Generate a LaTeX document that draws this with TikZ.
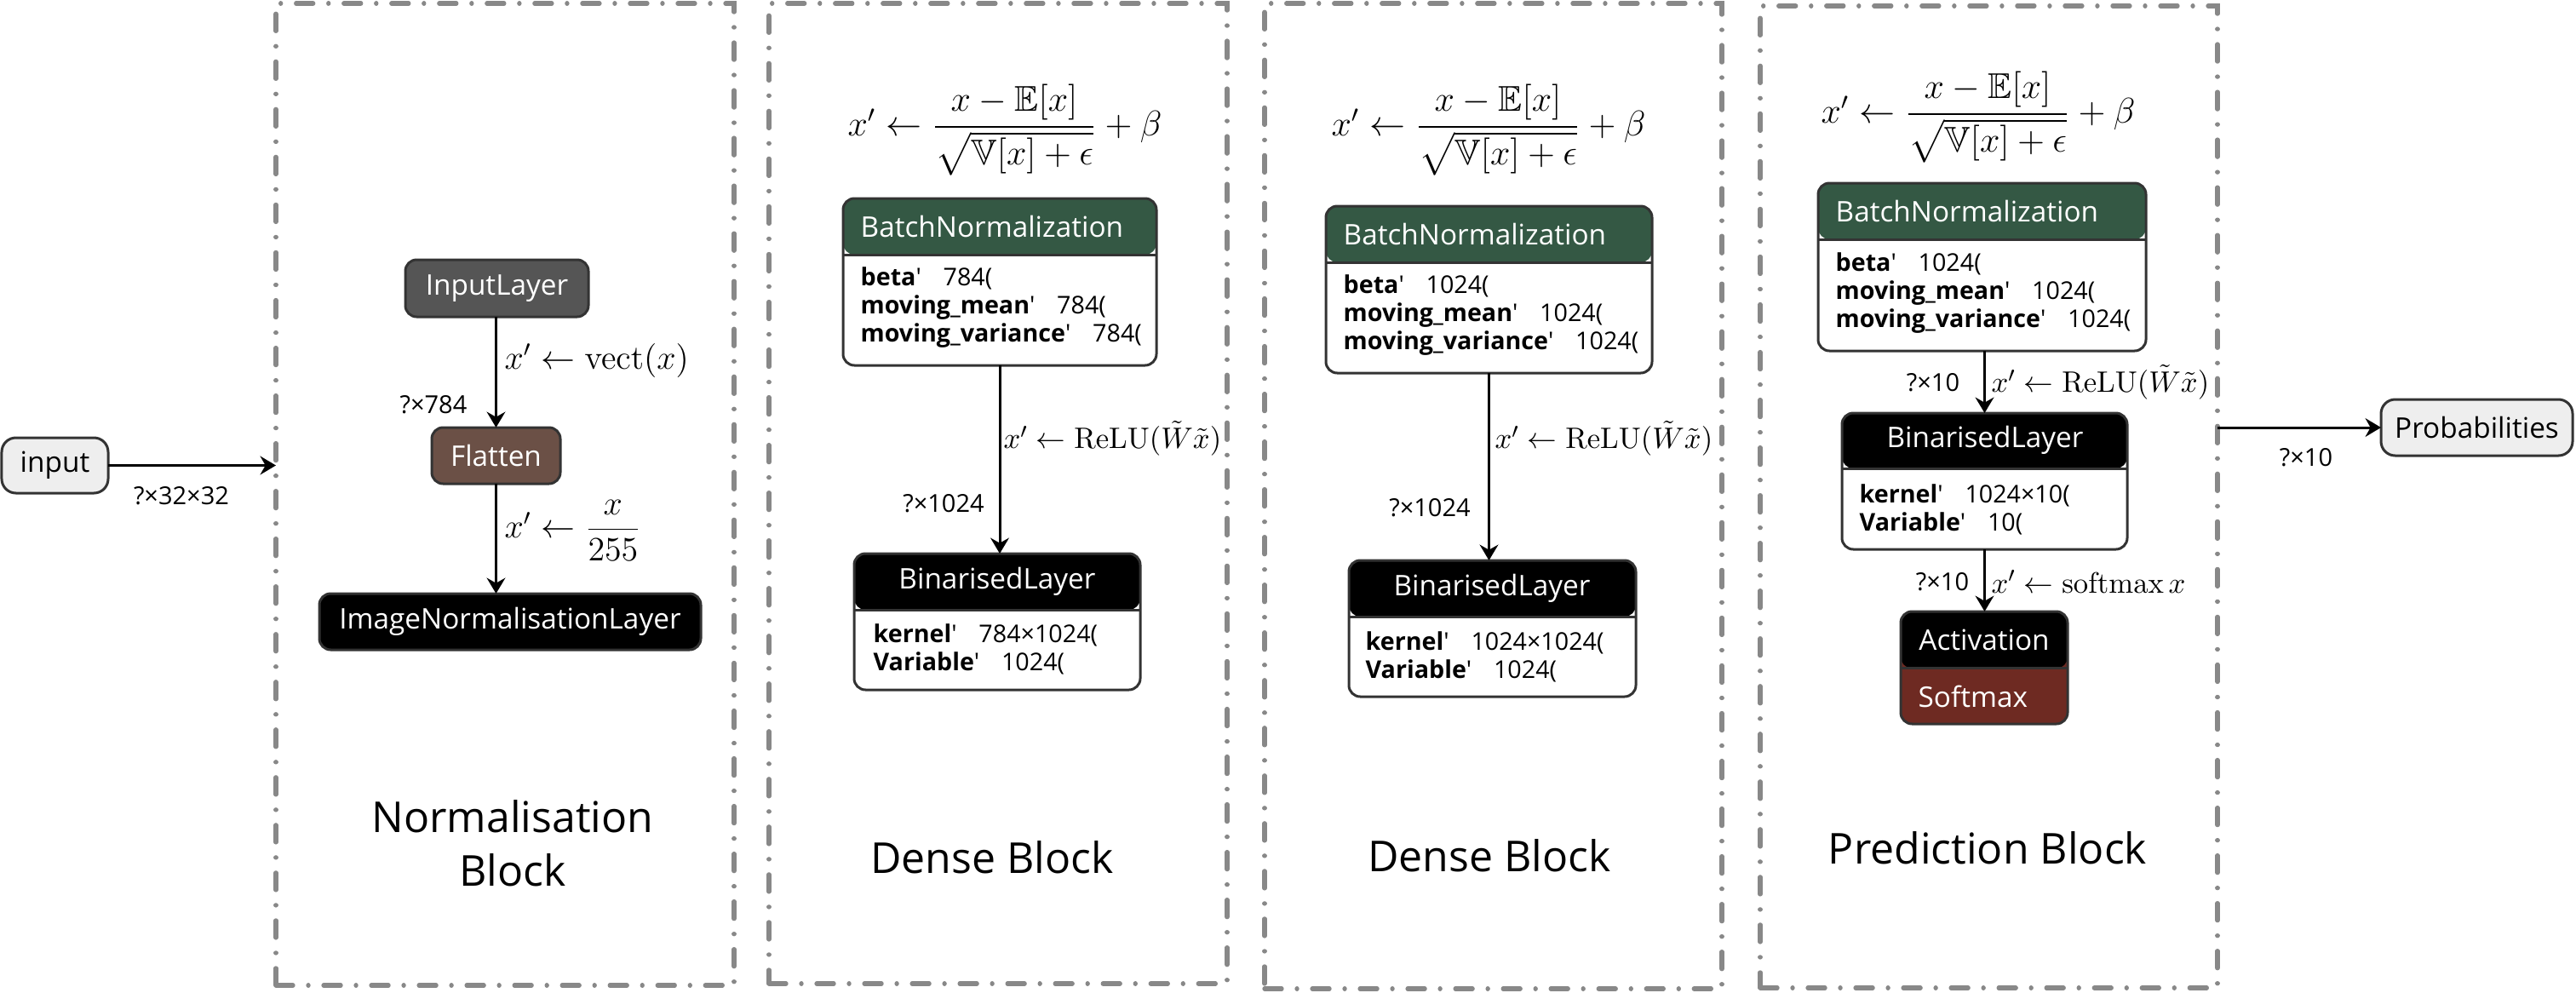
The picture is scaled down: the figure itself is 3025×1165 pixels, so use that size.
\documentclass[tikz,border=0pt]{standalone}
\usepackage{amsmath,amssymb}
\usepackage[no-math]{fontspec}
\setmainfont{Open Sans}
\usetikzlibrary{fit,arrows.meta}

\definecolor{edgegray}{RGB}{51,51,51}
\definecolor{blockgray}{RGB}{136,136,136}
\definecolor{inlgray}{RGB}{85,85,85}
\definecolor{flatbrown}{RGB}{107,80,70}
\definecolor{bngreen}{RGB}{52,88,68}
\definecolor{softred}{RGB}{110,42,34}
\definecolor{termfill}{RGB}{238,238,238}

\newcommand{\nodefont}{\fontsize{10}{12}\selectfont}
\newcommand{\parfont}{\fontsize{8.6}{9.9}\selectfont}
\newcommand{\lblfont}{\fontsize{8.7}{10}\selectfont}
\newcommand{\ttlfont}{\fontsize{15}{19}\selectfont}
\newcommand{\prm}[2]{\textbf{#1}\textquotesingle\hspace{0.9em}#2}
\newcommand{\bnformula}{$x'\leftarrow\dfrac{x-\mathbb{E}[x]}{\sqrt{\mathbb{V}[x]+\epsilon}}+\beta$}

\begin{document}
\begin{tikzpicture}[x=0.3pt,y=-0.3pt,
  sz/.style 2 args={minimum width={#1*0.3pt}, minimum height={#2*0.3pt}},
  blockbox/.style={draw=blockgray, line width=1.6pt, dash pattern=on 6pt off 5.4pt on 0.01pt off 5.4pt, line cap=round, inner sep=0pt, outer sep=0pt},
  layer/.style={draw=edgegray, line width=0.9pt, rounded corners=4pt, inner sep=0pt, outer sep=0pt, text=white, font=\nodefont},
  hdr/.style 2 args={path picture={
     \fill[#1] (path picture bounding box.north west) rectangle ([yshift=-#2]path picture bounding box.north east);
     \draw[edgegray, line width=0.9pt] ([yshift=-#2]path picture bounding box.north west) -- ([yshift=-#2]path picture bounding box.north east);}},
  term/.style={draw=edgegray, line width=0.9pt, rounded corners=5pt, fill=termfill, inner sep=0pt, outer sep=0pt, font=\nodefont},
  arr/.style={line width=0.9pt, -{Stealth[length=5.5pt,width=6.5pt,inset=1.8pt]}},
  lbl/.style={font=\lblfont, inner sep=0pt},
  mlbl/.style={font=\fontsize{12}{14}\selectfont, inner sep=0pt},
  slbl/.style={font=\fontsize{11}{13}\selectfont, inner sep=0pt, scale=0.95},
  mform/.style={font=\fontsize{12}{15}\selectfont, inner sep=0pt, scale=1.05},
  htext/.style={font=\nodefont, text=white, inner sep=0pt},
  ptext/.style={font=\parfont, align=left, inner sep=0pt, anchor=west},
  ttl/.style={font=\ttlfont, align=center, inner sep=0pt}]
\useasboundingbox (0,0) rectangle (3025,1165);

% ---------- input ----------
\node[term, sz={125}{65}] (input) at (64.5,546.5) {input};

% ---------- Block 1 ----------
\node[blockbox, fit={(324,4)(862,1157)}] (blk1) {};
\node[layer, fill=inlgray, sz={215}{67}] (inl) at (583.5,338.5) {InputLayer};
\node[layer, fill=flatbrown, sz={151}{66}] (flat) at (582.5,535) {Flatten};
\node[layer, fill=black, sz={448}{66}] (imgn) at (599,730) {ImageNormalisationLayer};
\draw[arr] (inl.south -| flat.north) -- (flat.north);
\draw[arr] (flat.south) -- (flat.south |- imgn.north);
\node[mlbl, anchor=west] (lv) at (592,423) {$x'\leftarrow\mathrm{vect}(x)$};
\node[lbl] (s784) at (509,475) {?×784};
\node[mlbl, anchor=west] (lf) at (592,623) {$x'\leftarrow\dfrac{x}{255}$};
\node[ttl] (t1) at (602,990) {Normalisation\\Block};

\draw[arr] (input.east) -- (input.east -| blk1.west);
\node[lbl] (s32) at (213,582) {?×32×32};

% ---------- Block 2 ----------
\node[blockbox, fit={(903,4)(1441,1155)}] (blk2) {};
\node[mform] (f2) at (1180,153) {\bnformula};
\node[layer, fill=white, hdr={bngreen}{19.8pt}, fit={(990,233)(1358,429)}] (bn2) {};
\node[htext, anchor=west] (bn2h) at (1010,266) {BatchNormalization};
\node[ptext] (bn2p) at (1010,361) {\prm{beta}{784(}\\\prm{moving\_mean}{784(}\\\prm{moving\_variance}{784(}};
\node[layer, fill=white, hdr={black}{19.8pt}, fit={(1003,650)(1339,810)}] (bin2) {};
\node[htext] (bin2h) at (1171,683) {BinarisedLayer};
\node[ptext] (bin2p) at (1025,762) {\prm{kernel}{784×1024(}\\\prm{Variable}{1024(}};
\draw[arr] (bn2.south) -- (bn2.south |- bin2.north);
\node[slbl, anchor=west] (lr2) at (1178,515) {$x'\leftarrow\mathrm{ReLU}(\tilde{W}\tilde{x})$};
\node[lbl] (s1024a) at (1108,591) {?×1024};
\node[ttl] (t2) at (1165,1007) {Dense Block};

% ---------- Block 3 ----------
\node[blockbox, fit={(1485,4)(2022,1161)}] (blk3) {};
\node[mform] (f3) at (1748,153) {\bnformula};
\node[layer, fill=white, hdr={bngreen}{19.8pt}, fit={(1557,242)(1940,438)}] (bn3) {};
\node[htext, anchor=west] (bn3h) at (1577,275) {BatchNormalization};
\node[ptext] (bn3p) at (1577,370) {\prm{beta}{1024(}\\\prm{moving\_mean}{1024(}\\\prm{moving\_variance}{1024(}};
\node[layer, fill=white, hdr={black}{19.8pt}, fit={(1584,658)(1921,818)}] (bin3) {};
\node[htext] (bin3h) at (1752,691) {BinarisedLayer};
\node[ptext] (bin3p) at (1603,771) {\prm{kernel}{1024×1024(}\\\prm{Variable}{1024(}};
\draw[arr] (bn3.south) -- (bn3.south |- bin3.north);
\node[slbl, anchor=west] (lr3) at (1755,515) {$x'\leftarrow\mathrm{ReLU}(\tilde{W}\tilde{x})$};
\node[lbl] (s1024b) at (1679,596) {?×1024};
\node[ttl] (t3) at (1749,1005) {Dense Block};

% ---------- Block 4 ----------
\node[blockbox, fit={(2067,7)(2604,1160)}] (blk4) {};
\node[mform] (f4) at (2323,138) {\bnformula};
\node[layer, fill=white, hdr={bngreen}{19.8pt}, fit={(2135,215)(2520,412)}] (bn4) {};
\node[htext, anchor=west] (bn4h) at (2155,248) {BatchNormalization};
\node[ptext] (bn4p) at (2155,344) {\prm{beta}{1024(}\\\prm{moving\_mean}{1024(}\\\prm{moving\_variance}{1024(}};
\node[layer, fill=white, hdr={black}{19.5pt}, fit={(2163,485)(2498,645)}] (bin4) {};
\node[htext] (bin4h) at (2331,517) {BinarisedLayer};
\node[ptext] (bin4p) at (2183,598) {\prm{kernel}{1024×10(}\\\prm{Variable}{10(}};
\node[layer, fill=softred, hdr={black}{20pt}, fit={(2232,718)(2428,850)}] (act4) {};
\node[htext] (act4h) at (2330,751) {Activation};
\node[htext, anchor=west] (act4b) at (2252,818) {Softmax};
\draw[arr] (bn4.south -| bin4.north) -- (bin4.north);
\draw[arr] (bin4.south) -- (bin4.south |- act4.north);
\node[lbl] (s10a) at (2270,449) {?×10};
\node[slbl, anchor=west] (lr4) at (2338,449) {$x'\leftarrow\mathrm{ReLU}(\tilde{W}\tilde{x})$};
\node[lbl] (s10b) at (2281,683) {?×10};
\node[slbl, anchor=west] (ls4) at (2338,683) {$x'\leftarrow\operatorname{softmax}x$};
\node[ttl] (t4) at (2334,996) {Prediction Block};

% ---------- output ----------
\node[term, sz={225}{66}] (prob) at (2908.5,502) {Probabilities};
\draw[arr] (blk4.east |- prob) -- (prob.west);
\node[lbl] (s10o) at (2708,537) {?×10};
\end{tikzpicture}
\end{document}
